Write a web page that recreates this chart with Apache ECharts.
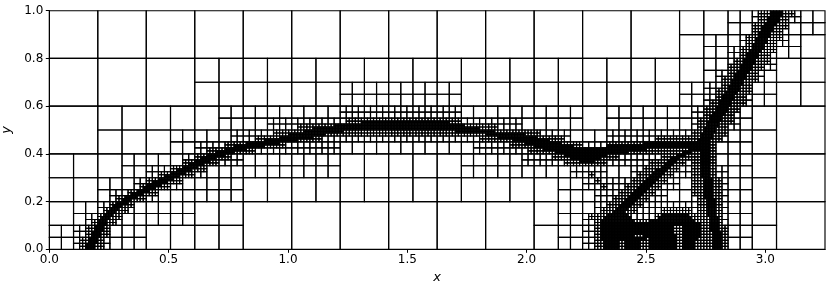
<!DOCTYPE html>
<html>
<head>
<meta charset="utf-8">
<style>html,body{margin:0;padding:0;background:#fff}#c{width:830px;height:290px}</style>
<script src="https://cdn.jsdelivr.net/npm/echarts@6/dist/echarts.min.js"></script>
</head>
<body>
<div id="c"></div>
<script>
const xTicks = [0, 0.5, 1, 1.5, 2, 2.5, 3];
const yTicks = [0, 0.2, 0.4, 0.6, 0.8, 1];
const domainX = 3.25, domainY = 1, baseCols = 16, baseRows = 5;

// Refined cells, per level: index = row from the bottom, entries = [firstCol,lastCol]
const refined0 = [[[0,3],[10,14]],[[0,14]],[[1,14]],[[3,15]],[[13,15]]];
const refined1 = [
 [[0,3],[21,28]],[[1,5],[21,28]],[[2,7],[21,28]],[[3,11],[17,28]],[[5,28]],
 [[7,21],[23,28]],[[12,16],[26,29]],[[27,29]],[[27,30]],[[28,31]]];
const refined2 = [
 [[2,4],[44,55]],[[2,4],[44,55]],[[3,5],[44,55]],[[4,6],[45,49],[51,55]],[[5,7],[45,50],[53,55]],
 [[7,9],[44,51],[53,55]],[[8,11],[43,45],[48,55]],[[11,15],[39,54]],[[12,23],[35,54]],[[15,42],[46,55]],
 [[18,38],[53,55]],[[24,33],[53,55]],[[54,56]],[[54,57]],[[55,58]],
 [[56,58]],[[56,59]],[[57,59]],[[58,60]],[[58,61]]];
const refined3 = [
 [[5,8],[90,111]],[[5,8],[90,111]],[[6,9],[90,111]],[[6,9],[90,111]],[[7,10],[90,96],[99,110]],
 [[8,11],[89,95],[100,106],[107,110]],[[9,12],[91,96],[101,105],[107,110]],[[10,13],[92,97],[107,110]],
 [[11,15],[93,98],[107,110]],[[13,17],[94,99],[106,110]],
 [[15,19],[91,91],[95,100],[106,110]],[[16,21],[90,90],[96,101],[106,110]],[[18,23],[89,89],[97,102],[106,109]],
 [[20,25],[98,103],[106,109]],[[22,27],[85,91],[99,104],[106,109]],[[24,29],[83,93],[101,109]],
 [[26,33],[79,109]],[[29,38],[76,87],[92,109]],[[34,44],[71,84],[100,110]],[[37,80],[106,111]],
 [[41,73],[107,111]],[[49,67],[107,112]],[[108,112]],[[108,113]],[[109,114]],[[110,114]],[[110,115]],
 [[111,115]],[[111,116]],[[112,116]],[[112,117]],[[113,118]],[[114,118]],[[114,119]],[[115,119]],
 [[115,120]],[[116,120]],[[116,121]],[[117,121]],[[117,122]]];
const refined4 = [
 [[12,14],[183,187],[190,194],[198,206],[209,212],[219,221]],
 [[12,14],[183,187],[190,194],[198,206],[209,212],[219,221]],
 [[13,15],[183,187],[190,194],[198,206],[209,212],[219,221]],
 [[13,15],[182,188],[189,196],[198,206],[209,213],[219,221]],
 [[14,16],[182,192],[196,206],[209,214],[219,221]],
 [[14,16],[182,205],[209,214],[219,221]],
 [[15,17],[182,205],[209,214],[218,220]],
 [[15,17],[182,205],[209,214],[218,220]],
 [[16,18],[182,214],[218,220]],
 [[16,18],[182,192],[198,212],[218,220]],
 [[17,19],[183,191],[201,211],[218,220]],
 [[18,20],[184,190],[202,210],[217,219]],
 [[19,21],[186,189],[217,219]],
 [[20,22],[187,190],[217,219]],
 [[21,23],[188,191],[217,219]],
 [[22,25],[189,192],[217,219]],
 [[24,26],[190,193],[217,219]],
 [[25,28],[191,194],[216,218]],
 [[27,30],[192,195],[216,218]],
 [[29,32],[193,196],[216,218]],
 [[31,34],[194,197],[216,218]],
 [[32,36],[195,198],[216,218]],
 [[34,38],[196,199],[216,218]],
 [[36,40],[197,200],[216,218]],
 [[38,42],[198,201],[215,217]],
 [[40,44],[199,202],[215,217]],
 [[42,46],[200,203],[215,217]],
 [[44,48],[202,204],[215,217]],
 [[46,50],[203,205],[215,217]],
 [[48,52],[175,179],[204,206],[215,217]],
 [[50,54],[172,181],[205,207],[215,217]],
 [[52,57],[170,183],[207,209],[215,217]],
 [[55,60],[167,190],[209,211],[215,217]],
 [[58,64],[163,196],[211,217]],
 [[61,70],[160,172],[184,217]],
 [[65,75],[157,168],[196,217]],
 [[71,81],[153,164],[214,217]],
 [[76,86],[148,160],[215,218]],
 [[79,90],[144,156],[215,218]],
 [[84,96],[134,146],[216,219]],
 [[87,141],[216,219]],
 [[94,136],[217,220]],
 [[103,131],[217,220]],
 [[218,221]],[[218,221]],[[219,222]],[[220,223]],[[220,223]],[[221,224]],[[221,224]],
 [[222,225]],[[222,225]],[[223,226]],[[224,227]],[[224,227]],[[225,228]],[[225,228]],[[226,229]],
 [[226,229]],[[227,230]],[[228,231]],[[228,231]],[[229,232]],[[229,232]],[[230,233]],[[230,233]],
 [[231,234]],[[232,235]],[[232,235]],[[233,236]],[[233,236]],[[234,237]],[[234,237]],[[235,238]],
 [[235,238]],[[236,239]],[[237,240]],[[237,240]],[[238,241]],[[238,241]]];

const refinedLevels = [refined0, refined1, refined2, refined3, refined4];
const sets = refinedLevels.map(() => new Set());
const key = (r, c) => r * 100000 + c;
refinedLevels.forEach((rows, level) => rows.forEach((ranges, row) => ranges.forEach(([a, b]) => {
  for (let c = a; c <= b; c++) {
    for (let l = level; l >= 0; l--) sets[l].add(key(row >> (level - l), c >> (level - l)));
  }
})));

const cells = [];
function addCell(level, row, col) {
  if (level < sets.length && sets[level].has(key(row, col))) {
    for (let dr = 0; dr < 2; dr++) for (let dc = 0; dc < 2; dc++) addCell(level + 1, row * 2 + dr, col * 2 + dc);
    return;
  }
  const hx = domainX / baseCols / (1 << level), hy = domainY / baseRows / (1 << level);
  cells.push([col * hx, row * hy, (col + 1) * hx, (row + 1) * hy]);
}
for (let r = 0; r < baseRows; r++) for (let c = 0; c < baseCols; c++) addCell(0, r, c);

const chart = echarts.init(document.getElementById('c'), null, {renderer: 'canvas'});
const tickFont = {color: '#000', fontFamily: 'DejaVu Sans', fontSize: 12};
chart.setOption({
  animation: false,
  grid: {left: 49.3, right: 5, top: 10.7, bottom: 40.7, containLabel: false, outerBoundsMode: 'none'},
  xAxis: {
    type: 'value', min: 0, max: domainX, interval: 0.5,
    name: 'x', nameLocation: 'middle', nameGap: 22,
    nameTextStyle: {color: '#000', fontFamily: 'DejaVu Sans', fontStyle: 'italic', fontSize: 13},
    axisLine: {show: true, lineStyle: {color: '#000', width: 1}},
    axisTick: {show: true, length: 3.5, lineStyle: {color: '#000', width: 1}},
    splitLine: {show: false},
    axisLabel: Object.assign({margin: 5, formatter: v => v.toFixed(1), showMaxLabel: false}, tickFont)
  },
  yAxis: {
    type: 'value', min: 0, max: domainY, interval: 0.2,
    name: 'y', nameLocation: 'middle', nameGap: 30, nameRotate: 90,
    nameTextStyle: {color: '#000', fontFamily: 'DejaVu Sans', fontStyle: 'italic', fontSize: 13},
    axisLine: {show: true, lineStyle: {color: '#000', width: 1}},
    axisTick: {show: true, length: 3.5, lineStyle: {color: '#000', width: 1}},
    splitLine: {show: false},
    axisLabel: Object.assign({margin: 6, formatter: v => v.toFixed(1)}, tickFont)
  },
  series: [{
    type: 'custom', silent: true, clip: false, progressive: 0,
    encode: {x: [0, 2], y: [1, 3]},
    data: cells,
    renderItem: (params, api) => {
      const p0 = api.coord([api.value(0), api.value(1)]);
      const p1 = api.coord([api.value(2), api.value(3)]);
      return {
        type: 'rect',
        shape: {x: p0[0], y: p1[1], width: p1[0] - p0[0], height: p0[1] - p1[1]},
        style: {fill: 'none', stroke: '#000', lineWidth: 1.15}
      };
    }
  }]
});
</script>
</body>
</html>
